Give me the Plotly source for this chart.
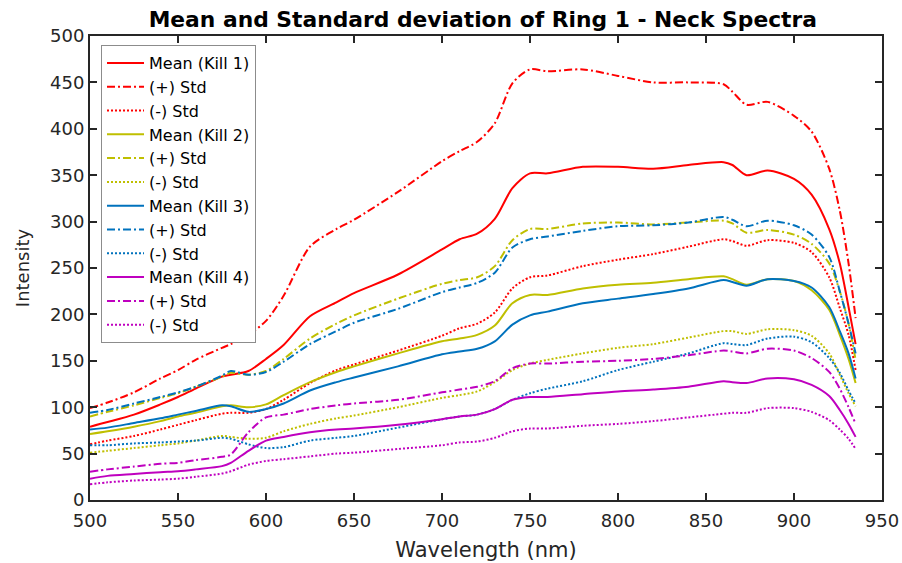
import plotly.graph_objects as go

wavelength = [500, 510, 525, 540, 550, 560, 575, 580, 590, 600, 610, 625, 640, 650, 675,
              700, 710, 720, 730, 740, 750, 760, 780, 800, 820, 840, 860, 865, 873, 885,
              900, 910, 920, 926, 931, 935]

k1_mean = [79, 84, 92, 103, 111, 120, 133, 135, 139, 152, 167, 198, 213, 223, 243,
           270, 281, 287, 303, 336, 352, 352, 359, 359, 357, 361, 364, 361, 350, 355,
           346, 329, 292, 255, 208, 168]
k1_plus = [99, 105, 116, 131, 140, 151, 164, 168, 178, 193, 220, 273, 292, 302, 332,
           365, 376, 386, 406, 449, 464, 462, 464, 457, 450, 450, 448, 440, 426, 429,
           414, 397, 357, 312, 255, 196]
k1_minus = [60, 64, 69, 76, 81, 86, 93, 94, 94, 98, 108, 126, 140, 146, 161,
            177, 185, 190, 202, 228, 240, 242, 252, 259, 265, 273, 281, 279, 274, 280,
            277, 267, 240, 207, 178, 140]

k2_mean = [71, 74, 79, 85, 90, 94, 101, 102, 100, 103, 113, 127, 138, 144, 158,
           171, 174, 178, 188, 212, 221, 221, 228, 232, 234, 238, 241, 238, 232, 238,
           236, 226, 205, 178, 152, 126]
k2_plus = [90, 95, 102, 110, 115, 122, 133, 137, 135, 139, 152, 174, 190, 199, 217,
           233, 237, 240, 252, 280, 292, 292, 298, 299, 297, 299, 301, 298, 288, 291,
           286, 276, 255, 225, 190, 151]
k2_minus = [51, 53, 56, 59, 61, 64, 69, 68, 66, 67, 74, 82, 88, 91, 100,
            110, 113, 117, 127, 140, 147, 151, 158, 164, 168, 175, 182, 182, 179, 184,
            183, 177, 158, 135, 115, 101]

k3_mean = [76, 78, 83, 88, 92, 96, 102, 101, 95, 98, 104, 118, 127, 132, 144,
           157, 160, 163, 171, 189, 199, 203, 212, 217, 222, 228, 237, 235, 231, 238,
           236, 229, 208, 182, 158, 131]
k3_plus = [94, 97, 104, 111, 116, 122, 134, 139, 135, 138, 149, 168, 182, 191, 206,
           224, 229, 234, 245, 272, 281, 284, 290, 295, 296, 299, 305, 302, 295, 301,
           296, 286, 262, 225, 190, 158]
k3_minus = [59, 59, 61, 62, 63, 64, 67, 66, 60, 56, 57, 64, 67, 69, 78,
            87, 90, 92, 98, 108, 115, 120, 128, 140, 149, 158, 169, 168, 167, 174,
            176, 170, 153, 137, 118, 104]

k4_mean = [23, 26, 28, 30, 31, 33, 36.5, 40, 53, 64, 68, 73, 76, 77, 81,
           87, 90, 92, 98, 108, 111, 111, 114, 117, 119, 122, 128, 127, 126, 131,
           130, 124, 112, 97, 82, 68]
k4_plus = [30.5, 33, 36, 39, 40, 43, 46.5, 49, 73, 89, 92, 98, 102, 104, 108,
           116, 119, 122, 128, 142, 147, 147, 149, 150, 152, 156, 161, 160, 158, 163,
           161, 153, 138, 120, 100, 82]
k4_minus = [17, 19, 21, 22, 23, 25, 28.5, 31, 38, 42, 44, 47, 50, 51, 55,
            59, 62, 63, 67, 74, 77, 77, 80, 82, 85, 89, 93, 94, 94, 99,
            99, 95, 86, 76, 66, 55]

series = [
    ("Mean (Kill 1)", k1_mean, "#FF0000", "solid"),
    ("(+) Std", k1_plus, "#FF0000", "dashdot"),
    ("(-) Std", k1_minus, "#FF0000", "dot"),
    ("Mean (Kill 2)", k2_mean, "#BFBF00", "solid"),
    ("(+) Std", k2_plus, "#BFBF00", "dashdot"),
    ("(-) Std", k2_minus, "#BFBF00", "dot"),
    ("Mean (Kill 3)", k3_mean, "#0072BD", "solid"),
    ("(+) Std", k3_plus, "#0072BD", "dashdot"),
    ("(-) Std", k3_minus, "#0072BD", "dot"),
    ("Mean (Kill 4)", k4_mean, "#BF00BF", "solid"),
    ("(+) Std", k4_plus, "#BF00BF", "dashdot"),
    ("(-) Std", k4_minus, "#BF00BF", "dot"),
]

dash_map = {"solid": "solid", "dashdot": "8px,3px,2px,3px", "dot": "2px,2px"}

fig = go.Figure()
for name, vals, color, style in series:
    fig.add_trace(go.Scatter(
        x=wavelength, y=vals, mode="lines", name=name,
        line=dict(color=color, width=2, dash=dash_map[style], shape="spline", smoothing=0.8),
    ))

axis_color = "#262626"
font_family = "DejaVu Sans, Arial, sans-serif"

fig.update_layout(
    width=902, height=563,
    margin=dict(l=90, r=20, t=36, b=63, autoexpand=False),
    paper_bgcolor="white", plot_bgcolor="white",
    title=dict(text="<b>Mean and Standard deviation of Ring 1 - Neck Spectra</b>",
               x=0.496, xref="paper", xanchor="center",
               y=1 - 19 / 563, yref="container", yanchor="middle",
               font=dict(family=font_family, size=21.8, color="black")),
    font=dict(family=font_family, color=axis_color),
    legend=dict(x=0.0139, y=0.9806, xanchor="left", yanchor="top",
                bgcolor="white", bordercolor="#8c8c8c", borderwidth=1,
                font=dict(family=font_family, size=16, color="black"),
                itemwidth=37, tracegroupgap=0, entrywidth=125, entrywidthmode="pixels"),
    showlegend=True,
)

fig.update_xaxes(
    range=[500, 950], dtick=50, tick0=500, automargin=False,
    showline=True, linecolor=axis_color, linewidth=2, mirror="ticks",
    ticks="inside", ticklen=7, tickwidth=1.5, tickcolor=axis_color,
    showgrid=False, zeroline=False, ticklabelstandoff=3,
    tickfont=dict(family=font_family, size=18, color=axis_color),
    title=dict(text="Wavelength (nm)", font=dict(family=font_family, size=21, color=axis_color), standoff=13),
)
fig.update_yaxes(
    range=[0, 500], dtick=50, tick0=0, automargin=False,
    showline=True, linecolor=axis_color, linewidth=2, mirror="ticks",
    ticks="inside", ticklen=7, tickwidth=1.5, tickcolor=axis_color,
    showgrid=False, zeroline=False,
    tickfont=dict(family=font_family, size=18, color=axis_color),
    title=dict(text="Intensity", font=dict(family=font_family, size=18, color=axis_color), standoff=16),
)

fig.write_html("out.html")
